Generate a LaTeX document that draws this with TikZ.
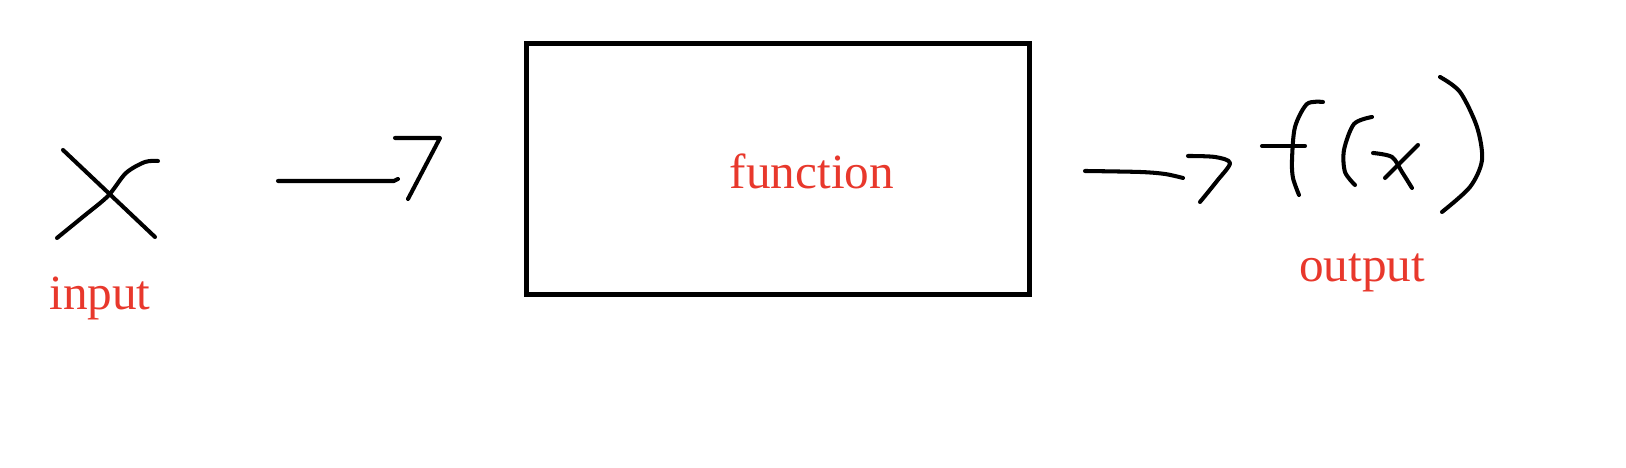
\documentclass[tikz,border=0pt]{standalone}
\usepackage{fontspec}
\setmainfont{Liberation Serif}
\usepackage{xcolor}
\usepackage{tikz}
\usetikzlibrary{positioning}
\definecolor{FRed}{HTML}{E8382C}

\begin{document}
\begin{tikzpicture}[x=0.01cm,y=-0.01cm,
  ink/.style={line width=1.15pt,line cap=round,line join=round},
  fnbox/.style={draw,line width=1.4pt,minimum width=5.02cm,minimum height=2.51cm,inner sep=0pt},
  lbl/.style={text=FRed,font=\fontsize{14}{16}\selectfont,anchor=base,inner sep=0pt}
]
  \useasboundingbox (0,0) rectangle (1626,468);
  \node[fnbox] (box) at (778,169) {};
  \node[lbl] (fnlbl) at (812,189) {function};
  \node[lbl] (inlbl) at (100,310) {input};
  \node[lbl] (outlbl) at (1362,282) {output};
  % input x, drawn by hand
  \draw[ink] (63,150) -- (155,237);
  \draw[ink] plot[smooth] coordinates {(57,238) (84,216) (108,196) (126,173) (145,162) (158,161)};
  % first arrow
  \coordinate (a1s) at (278,181);
  \coordinate (a1e) at (398,179);
  \draw[ink] (a1s) -- (394,181) -- (a1e);
  \draw[ink] (395,138) -- (440,138) -- (408,199);
  % second arrow
  \coordinate (a2s) at (1085,171);
  \coordinate (a2e) at (1183,178);
  \draw[ink] plot[smooth] coordinates {(a2s) (1140,172) (1165,174) (a2e)};
  \draw[ink] plot[smooth] coordinates {(1188,156) (1215,157) (1230,163) (1217,181) (1200,202)};
  % f(x)
  \draw[ink] (1262,146) -- (1305,146);
  \draw[ink] plot[smooth] coordinates {(1323,102) (1307,104) (1295,127) (1292,160) (1293,178) (1299,195)};
  \draw[ink] plot[smooth] coordinates {(1372,117) (1354,124) (1344,150) (1345,172) (1355,185)};
  \draw[ink] plot[smooth] coordinates {(1373,153) (1392,157) (1402,172) (1412,188)};
  \draw[ink] (1418,145) -- (1385,178);
  \draw[ink] plot[smooth] coordinates {(1440,77) (1460,92) (1477,127) (1482,160) (1470,187) (1442,212)};
\end{tikzpicture}
\end{document}
